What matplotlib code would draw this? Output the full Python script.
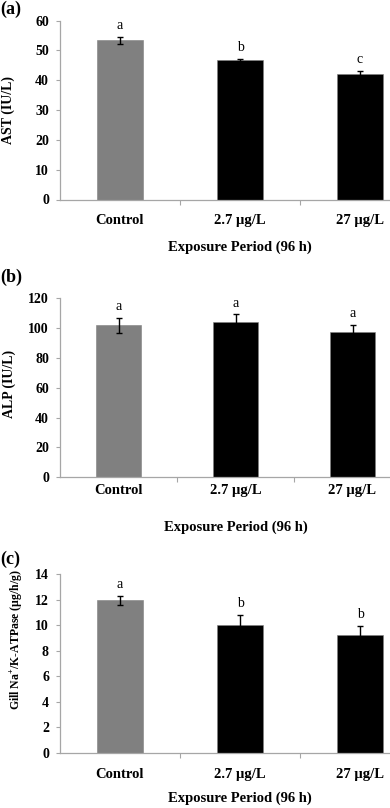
import matplotlib
matplotlib.use("Agg")
import matplotlib.pyplot as plt

FIG_W, FIG_H, DPI = 390, 808, 100

CATEGORIES = ["Control", "2.7 µg/L", "27 µg/L"]
BAR_COLORS = ["#808080", "#000000", "#000000"]

AST_MEAN = [53.3, 46.6, 42.0]
AST_ERR = [1.1, 0.5, 1.0]
AST_LETTERS = ["a", "b", "c"]

ALP_MEAN = [101.8, 103.8, 97.3]
ALP_ERR = [5.3, 5.4, 4.6]
ALP_LETTERS = ["a", "a", "a"]

ATPASE_MEAN = [11.95, 10.05, 9.25]
ATPASE_ERR = [0.37, 0.78, 0.72]
ATPASE_LETTERS = ["a", "b", "b"]

SERIF = "Liberation Serif"
plt.rcParams["font.family"] = SERIF
plt.rcParams["mathtext.fontset"] = "custom"
plt.rcParams["mathtext.rm"] = "Liberation Serif:bold"
plt.rcParams["mathtext.bf"] = "Liberation Serif:bold"

AXIS_GRAY = "#A6A6A6"


def px_rect(left, top, right, bottom):
    return [left / FIG_W, 1 - bottom / FIG_H, (right - left) / FIG_W, (bottom - top) / FIG_H]


def draw_panel(fig, rect, means, errs, letters, ylim, yticks, ylabel, panel, panel_y,
               ylabel_pos, ylabel_size, tick_pad, xlabel_gap):
    left, top, right, bottom = rect
    ax = fig.add_axes(px_rect(left, top, right, bottom))
    x = list(range(len(CATEGORIES)))
    ax.bar(x, means, width=0.39, color=BAR_COLORS, edgecolor="#7F7F7F", linewidth=0.4, zorder=2)
    ax.errorbar(x, means, yerr=errs, fmt="none", ecolor="black", elinewidth=1.0,
                capsize=2.4, capthick=1.0, zorder=3)
    for xi, m, e, lt in zip(x, means, errs, letters):
        ax.annotate(lt, (xi, m + e), xytext=(0, 3.5), textcoords="offset points",
                    ha="center", va="bottom", fontsize=10, family=SERIF)

    ax.set_xlim(-0.5, 2.5)
    ax.set_ylim(*ylim)
    ax.set_yticks(yticks)
    ax.set_yticklabels([str(t) for t in yticks], fontsize=10, fontweight="bold")
    ax.tick_params(axis="y", length=3, width=0.8, color=AXIS_GRAY, pad=5)

    ax.set_xticks(x)
    ax.set_xticklabels(CATEGORIES, fontsize=10.5, fontweight="bold")
    ax.tick_params(axis="x", which="major", length=0, pad=tick_pad)
    ax.set_xticks([0.5, 1.5, 2.5], minor=True)
    ax.tick_params(axis="x", which="minor", length=3.5, width=0.8, color=AXIS_GRAY)

    for s in ["top", "right"]:
        ax.spines[s].set_visible(False)
    for s in ["left", "bottom"]:
        ax.spines[s].set_color(AXIS_GRAY)
        ax.spines[s].set_linewidth(0.9)

    h = bottom - top
    ax.set_xlabel("Exposure Period (96 h)", fontsize=10.5, fontweight="bold")
    ax.xaxis.set_label_coords(0.5, -xlabel_gap / h)
    ax.xaxis.label.set_va("center")

    lx, ly = ylabel_pos
    ax.set_ylabel(ylabel, fontsize=ylabel_size, fontweight="bold")
    ax.yaxis.set_label_coords((lx - left) / (right - left), (bottom - ly) / h)
    ax.yaxis.label.set_va("center")

    fig.text(0.0, 1 - panel_y / FIG_H, panel, fontsize=13, fontweight="bold",
             ha="left", va="center", family=SERIF)
    return ax


def main():
    fig = plt.figure(figsize=(FIG_W / DPI, FIG_H / DPI), dpi=DPI)

    draw_panel(fig, (60, 20.5, 420, 199.5), AST_MEAN, AST_ERR, AST_LETTERS,
               (0, 60), list(range(0, 61, 10)), "AST (IU/L)", "(a)", 9,
               (8, 110), 10, 10.5, 47.5)
    draw_panel(fig, (60, 298.3, 411, 477.3), ALP_MEAN, ALP_ERR, ALP_LETTERS,
               (0, 120), list(range(0, 121, 20)), "ALP (IU/L)", "(b)", 277.5,
               (9, 383.5), 10, 4.8, 50)
    draw_panel(fig, (60, 574.3, 420, 752.7), ATPASE_MEAN, ATPASE_ERR, ATPASE_LETTERS,
               (0, 14), list(range(0, 15, 2)), "Gill Na$^{+}$/K-ATPase (µg/h/g)", "(c)", 559,
               (16.5, 640), 8.5, 11.0, 45.6)

    fig.savefig("out.png", dpi=DPI)
    plt.close(fig)


if __name__ == "__main__":
    main()
